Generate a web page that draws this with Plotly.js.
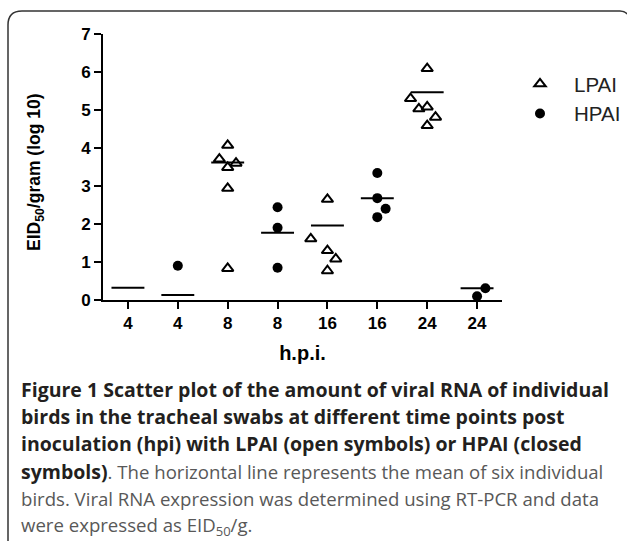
<!DOCTYPE html>
<html>
<head>
<meta charset="utf-8">
<script src="https://cdn.plot.ly/plotly-3.0.1.min.js"></script>
<style>html,body{margin:0;padding:0;background:#fff}#chart{width:627px;height:541px}</style>
</head>
<body>
<div id="chart"></div>
<script>
// ---- data ----
const tickLabels = ['4', '4', '8', '8', '16', '16', '24', '24'];
const tickPositions = [1, 2, 3, 4, 5, 6, 7, 8];
const yTickValues = [0, 1, 2, 3, 4, 5, 6, 7];

// LPAI groups (positions 1,3,5,7)
const lpaiGroupPos = [1, 3, 5, 7];
const lpaiValues = [
  [],
  [4.07, 3.71, 3.60, 3.49, 2.94, 0.83],
  [2.65, 1.61, 1.30, 1.08, 0.77],
  [6.09, 5.30, 5.03, 5.08, 4.81, 4.59]
];
const lpaiJitter = [
  [],
  [0, -1, 1, 0, 0, 0],
  [0, -2, 0, 1, 0],
  [0, -2, -1, 0, 1, 0]
];
const lpaiMeans = [0.32, 3.62, 1.96, 5.47];

// HPAI groups (positions 2,4,6,8)
const hpaiGroupPos = [2, 4, 6, 8];
const hpaiValues = [
  [0.90],
  [2.44, 1.90, 0.85],
  [3.34, 2.68, 2.40, 2.18],
  [0.31, 0.10]
];
const hpaiJitter = [
  [0],
  [0, 0, 0],
  [0, 0, 1, 0],
  [1, 0]
];
const hpaiMeans = [0.13, 1.77, 2.68, 0.31];

// ---- build traces ----
const JIT = 0.167;   // jitter step (category units)
const HALF = 0.33;   // half-width of mean line

function flatten(groupPos, values, jitter) {
  const x = [], y = [];
  groupPos.forEach((p, g) => {
    values[g].forEach((v, i) => { x.push(p + jitter[g][i] * JIT); y.push(v); });
  });
  return {x, y};
}
function meanLines(groupPos, means) {
  const x = [], y = [];
  groupPos.forEach((p, g) => { x.push(p - HALF, p + HALF, null); y.push(means[g], means[g], null); });
  return {x, y};
}

const L = flatten(lpaiGroupPos, lpaiValues, lpaiJitter);
const H = flatten(hpaiGroupPos, hpaiValues, hpaiJitter);
const LM = meanLines(lpaiGroupPos, lpaiMeans);
const HM = meanLines(hpaiGroupPos, hpaiMeans);

const ARIAL = 'Liberation Sans';
const CAP = 'Open Sans';

const traces = [
  {x: LM.x, y: LM.y, mode: 'lines', line: {color: '#000', width: 2}, showlegend: false, hoverinfo: 'skip'},
  {x: HM.x, y: HM.y, mode: 'lines', line: {color: '#000', width: 2}, showlegend: false, hoverinfo: 'skip'},
  {x: L.x, y: L.y, mode: 'markers', name: 'LPAI', cliponaxis: true,
   marker: {symbol: 'triangle-up-open', size: 10, color: '#000', line: {width: 2, color: '#000'}}},
  {x: H.x, y: H.y, mode: 'markers', name: 'HPAI', cliponaxis: true,
   marker: {symbol: 'circle', size: 10, color: '#000'}}
];

// helpers: pixel -> paper
const W = 627, HGT = 541;
const PL = 103, PR = 502, PT = 34, PB = 300;
const px = v => (v - PL) / (PR - PL);
const py = v => (PB - v) / (PB - PT);

const captionLines = [
  {t: '<b>Figure 1 Scatter plot of the amount of viral RNA of individual</b>', bold: true},
  {t: '<b>birds in the tracheal swabs at different time points post</b>', bold: true},
  {t: '<b>inoculation (hpi) with LPAI (open symbols) or HPAI (closed</b>', bold: true},
  {t: '<b><span style="font-size:19.5px;color:#231f20">symbols)</span></b>. The horizontal line represents the mean of six individual', bold: false},
  {t: 'birds. Viral RNA expression was determined using RT-PCR and data', bold: false},
  {t: 'were expressed as EID<sub>50</sub>/g.', bold: false}
];
const CAP_TOP = 389, CAP_STEP = 27.4;

const annotations = captionLines.map((c, i) => ({
  xref: 'paper', yref: 'paper', x: px(19), y: py(CAP_TOP + i * CAP_STEP), xanchor: 'left', yanchor: 'middle',
  text: c.t, showarrow: false, align: 'left',
  font: {family: CAP, size: c.bold ? 19.5 : 18.6, color: c.bold ? '#231f20' : '#585858'}
}));
annotations.push({
  xref: 'paper', yref: 'paper', x: px(35), y: py(172), xanchor: 'center', yanchor: 'middle',
  textangle: -90, showarrow: false,
  text: '<b>EID<sub>50</sub>/gram (log 10)</b>',
  font: {family: ARIAL, size: 17.5, color: '#000'}
});

const frame = 'M ' + px(8) + ',' + py(560) + ' L ' + px(8) + ',' + py(25) +
  ' Q ' + px(8) + ',' + py(11) + ' ' + px(22) + ',' + py(11) +
  ' L ' + px(620) + ',' + py(11) + ' Q ' + px(625) + ',' + py(11) + ' ' + px(627) + ',' + py(14);

const layout = {
  width: W, height: HGT,
  margin: {l: PL, r: W - PR, t: PT, b: HGT - PB, pad: 0, autoexpand: false},
  paper_bgcolor: '#fff', plot_bgcolor: '#fff',
  font: {family: ARIAL, color: '#000'},
  showlegend: true,
  legend: {xref: 'container', yref: 'container', x: 626 / W, y: 1 - 64 / HGT, xanchor: 'right', yanchor: 'top', itemwidth: 58,
           font: {family: ARIAL, size: 20.5, color: '#222'}, bgcolor: 'rgba(0,0,0,0)', tracegroupgap: 0},
  xaxis: {range: [0.5, 8.5], tickmode: 'array', tickvals: tickPositions, ticktext: tickLabels.map(t => '<b>' + t + '</b>'),
          showline: true, linewidth: 2, linecolor: '#000', ticks: 'outside', ticklen: 7, tickwidth: 2, tickcolor: '#000',
          showgrid: false, zeroline: false, fixedrange: true,
          tickfont: {family: ARIAL, size: 17, color: '#000'},
          title: {text: '<b>h.p.i.</b>', font: {family: ARIAL, size: 20, color: '#000'}, standoff: 14}},
  xaxis2: {range: [0.5, 8.5], tickmode: 'array', tickvals: tickPositions, overlaying: 'x', anchor: 'y', side: 'bottom',
           showline: false, ticks: 'inside', ticklen: 7, tickwidth: 2, tickcolor: '#000',
           showticklabels: false, showgrid: false, zeroline: false, fixedrange: true},
  yaxis: {range: [0, 7], tickmode: 'array', tickvals: yTickValues, ticktext: yTickValues.map(v => '<b>' + v + '</b>'),
          showline: true, linewidth: 2, linecolor: '#000', ticks: 'outside', ticklen: 7, tickwidth: 2, tickcolor: '#000',
          showgrid: false, zeroline: false, fixedrange: true,
          tickfont: {family: ARIAL, size: 17, color: '#000'}},
  annotations: annotations,
  shapes: [{type: 'path', xref: 'paper', yref: 'paper', path: frame, line: {color: '#333', width: 1.5}}]
};

Plotly.newPlot('chart', traces, layout, {displayModeBar: false, staticPlot: true});
</script>
</body>
</html>
